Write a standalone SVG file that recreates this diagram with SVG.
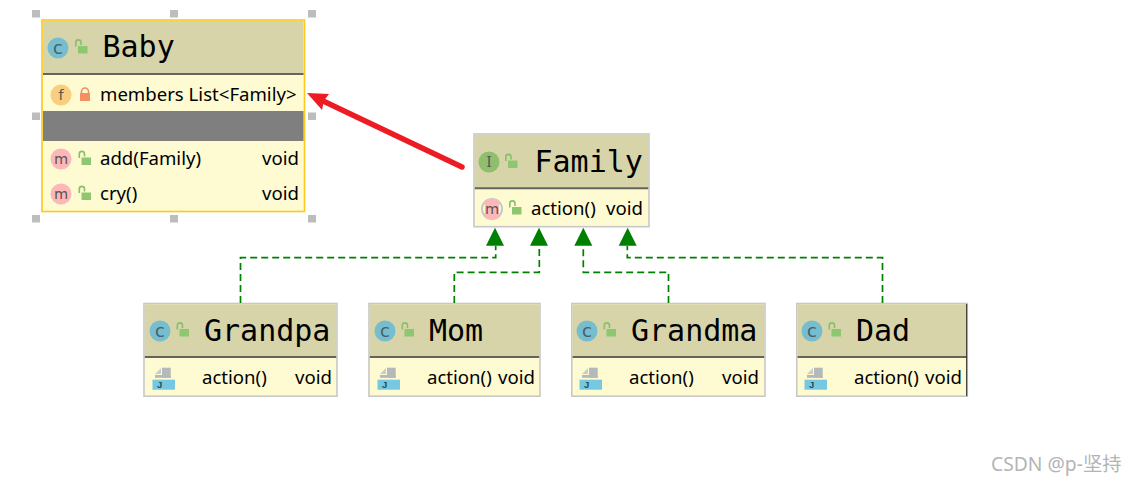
<svg xmlns="http://www.w3.org/2000/svg" width="1135" height="485" viewBox="0 0 1135 485">
<style>
.box{fill:#fefad2;stroke:#c8c8c8;stroke-width:1.6}
.head{fill:#d7d4aa}
.sep{stroke:#64645f;stroke-width:2}
.title{font:30px "DejaVu Sans Mono",monospace;fill:#000}
.t{font:18.6px "Noto Sans","Liberation Sans",sans-serif;fill:#000}
.h{fill:#bdbdbd}
.dash{fill:none;stroke:#008000;stroke-width:1.7;stroke-dasharray:7 4}
.tri{fill:#008000}
.ic{font:14.5px "DejaVu Sans",sans-serif;fill:#555;text-anchor:middle}
.c{font:18px "DejaVu Sans",sans-serif;fill:#4a5f66;text-anchor:middle}
</style>
<defs>
<g id="open"><path d="M-5.2 -1V-5a2.6 2.6 0 0 1 5.2 0V-2.500" fill="none" stroke="#86c06c" stroke-width="1.6"/><rect x="-3" y="-1.500" width="9.500" height="7.500" fill="#8dc76f"/></g>
<g id="cls"><circle r="10.500" fill="#75bdcf"/><text class="c" y="5.500">c</text></g>
<g id="mth"><circle r="10.500" fill="#fdb7b7"/><text class="ic" y="4.500">m</text></g>
<g id="jfile"><rect x="9.500" y="-11.300" width="8.700" height="10" fill="#b4bab9"/><rect x="2.500" y="-4" width="15.700" height="2.800" fill="#b4bab9"/><path d="M2.500 -5L8.500 -11V-5Z" fill="#c9cdcc"/><rect x="0" y="0.700" width="22.500" height="10" fill="#75c8df"/><text x="4.500" y="9" style="font:9.500px 'Liberation Sans',sans-serif;fill:#2d4a52;font-weight:bold">J</text></g>
</defs>
<g id="selection-handles">
<rect class="h" x="32" y="10" width="8" height="7.500"/><rect class="h" x="170" y="10" width="8" height="7.500"/><rect class="h" x="308" y="10" width="8" height="7.500"/>
<rect class="h" x="32" y="112.500" width="8" height="7.500"/><rect class="h" x="308" y="112.500" width="8" height="7.500"/>
<rect class="h" x="32" y="215" width="8" height="7.500"/><rect class="h" x="170" y="215" width="8" height="7.500"/><rect class="h" x="308" y="215" width="8" height="7.500"/>
</g>
<g id="baby">
<rect x="42" y="20" width="262.500" height="191.500" fill="#fefad2" stroke="#fdc81f" stroke-width="1.600"/>
<rect class="head" x="43" y="21" width="260.500" height="53"/>
<line class="sep" x1="43" y1="74" x2="303.500" y2="74"/>
<rect x="43" y="111" width="260.500" height="30" fill="#7f7f7f"/>
<use href="#cls" x="58" y="48"/><use href="#open" x="81" y="47.500"/>
<text class="title" x="102.500" y="57">Baby</text>
<circle cx="61" cy="95" r="10.500" fill="#f9cf7f"/><text class="ic" x="61" y="100">f</text>
<path d="M81.500 94v-2.500a3.500 3.500 0 0 1 7 0V94" fill="none" stroke="#f49060" stroke-width="1.600"/><rect x="80" y="93" width="10" height="8" fill="#f49060"/>
<text class="t" x="100" y="101">members List&lt;Family&gt;</text>
<use href="#mth" x="61" y="159"/><use href="#open" x="84.500" y="159"/>
<text class="t" x="100" y="165">add(Family)</text><text class="t" x="262" y="165">void</text>
<use href="#mth" x="61" y="194"/><use href="#open" x="84.500" y="194"/>
<text class="t" x="100" y="200">cry()</text><text class="t" x="262" y="200">void</text>
</g>
<g id="family">
<rect class="box" x="474" y="134" width="175" height="92.700"/>
<rect class="head" x="474.800" y="134.800" width="173.400" height="53"/>
<line class="sep" x1="474.800" y1="188.300" x2="648.200" y2="188.300"/>
<circle cx="489" cy="162" r="10.500" fill="#8fbf6d"/><text class="ic" x="489" y="167" style="font-family:'DejaVu Serif',serif;font-size:14px">I</text>
<use href="#open" x="511" y="162"/>
<text class="title" x="534.500" y="171.500">Family</text>
<circle cx="492" cy="209" r="10" fill="none" stroke="#c8c8c8" stroke-width="2"/><rect x="485" y="199" width="14" height="20" rx="4" fill="#fdb7b7"/><text class="ic" x="492" y="213.500">m</text>
<use href="#open" x="515" y="208.500"/>
<text class="t" x="531" y="215">action()</text><text class="t" x="606" y="215">void</text>
</g>
<g id="grandpa">
<rect class="box" x="144" y="303.500" width="193" height="92.700"/>
<rect class="head" x="144.800" y="304.300" width="191.400" height="52.500"/>
<line class="sep" x1="144.800" y1="357" x2="336.200" y2="357"/>
<use href="#cls" x="160" y="331"/><use href="#open" x="182.500" y="330.500"/>
<text class="title" x="204" y="340.500">Grandpa</text>
<use href="#jfile" x="152.500" y="379"/>
<text class="t" x="202" y="384">action()</text><text class="t" x="295" y="384">void</text>
</g>
<g id="mom">
<rect class="box" x="369" y="303.500" width="171" height="92.700"/>
<rect class="head" x="369.800" y="304.300" width="169.400" height="52.500"/>
<line class="sep" x1="369.800" y1="357" x2="539.200" y2="357"/>
<use href="#cls" x="385" y="331"/><use href="#open" x="407.500" y="330.500"/>
<text class="title" x="429" y="340.500">Mom</text>
<use href="#jfile" x="377.500" y="379"/>
<text class="t" x="427" y="384">action()</text><text class="t" x="498" y="384">void</text>
</g>
<g id="grandma">
<rect class="box" x="571.800" y="303.500" width="193.200" height="92.700"/>
<rect class="head" x="572.600" y="304.300" width="191.600" height="52.500"/>
<line class="sep" x1="572.600" y1="357" x2="764.200" y2="357"/>
<use href="#cls" x="587" y="331"/><use href="#open" x="609.500" y="330.500"/>
<text class="title" x="631" y="340.500">Grandma</text>
<use href="#jfile" x="579.500" y="379"/>
<text class="t" x="629" y="384">action()</text><text class="t" x="722" y="384">void</text>
</g>
<g id="dad">
<rect class="box" x="796.800" y="303.500" width="170.500" height="92.700"/>
<rect class="head" x="797.600" y="304.300" width="168.900" height="52.500"/>
<line class="sep" x1="797.600" y1="357" x2="966.500" y2="357"/>
<line x1="966.700" y1="304" x2="966.700" y2="396" stroke="#222" stroke-width="1"/>
<use href="#cls" x="812" y="331"/><use href="#open" x="834.500" y="330.500"/>
<text class="title" x="856" y="340.500">Dad</text>
<use href="#jfile" x="804.500" y="379"/>
<text class="t" x="854" y="384">action()</text><text class="t" x="925" y="384">void</text>
</g>
<g id="connectors">
<path class="dash" d="M240.500 303V257.700H495.700V246"/>
<path class="dash" d="M454.300 303V272.300H539.300V246"/>
<path class="dash" d="M668.500 303V272.300H583.300V246"/>
<path class="dash" d="M882.500 303V257.700H627.300V246"/>
<path class="tri" d="M495 227.700L504 245.700H486Z"/>
<path class="tri" d="M539 227.700L548 245.700H530Z"/>
<path class="tri" d="M583.300 227.700L592.300 245.700H574.300Z"/>
<path class="tri" d="M627.700 227.700L636.700 245.700H618.700Z"/>
<path d="M462 167L321 100" fill="none" stroke="#ed1c24" stroke-width="5.500" stroke-linecap="round"/>
<path d="M307 93L329 94L324 100.500L322 110Z" fill="#ed1c24"/>
</g>
<text x="991" y="471" style="font:19.3px 'Noto Sans','Noto Sans CJK SC',sans-serif;fill:#b4b4b4">CSDN @p-坚持</text>
</svg>
